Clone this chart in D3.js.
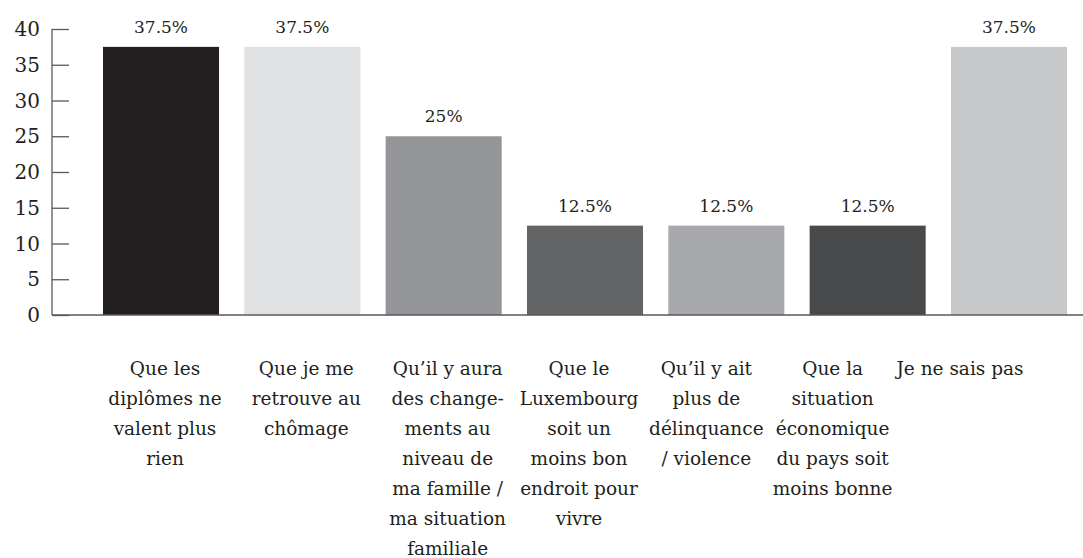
<!DOCTYPE html>
<html>
<head>
<meta charset="utf-8">
<script src="https://cdn.jsdelivr.net/npm/d3@7"></script>
<style>
  body { margin: 0; background: #fff; }
  text { font-family: "DejaVu Serif", serif; fill: #231f20; }
</style>
</head>
<body>
<script>
// chart data
var categories = [
    ["Que les", "diplômes ne", "valent plus", "rien"],
    ["Que je me", "retrouve au", "chômage"],
    ["Qu’il y aura", "des change-", "ments au", "niveau de", "ma famille /", "ma situation", "familiale"],
    ["Que le", "Luxembourg", "soit un", "moins bon", "endroit pour", "vivre"],
    ["Qu’il y ait", "plus de", "délinquance", "/ violence"],
    ["Que la", "situation", "économique", "du pays soit", "moins bonne"],
    ["Je ne sais pas"]
];
var values = [37.5, 37.5, 25, 12.5, 12.5, 12.5, 37.5];
var valueLabels = ["37.5%", "37.5%", "25%", "12.5%", "12.5%", "12.5%", "37.5%"];
var barColors = ["#231f20", "#e0e1e2", "#939598", "#636466", "#a7a9ac", "#48494b", "#c7c8ca"];
var yTicks = [0, 5, 10, 15, 20, 25, 30, 35, 40];

window.onload = drawChart;

function drawChart() {
    var width = 1083,
        height = 558;

    // layout nudges for the category labels (they drift left in the original)
    var labelNudge = [4, 4, 4, -6, -20, -35, -49];

    var svg = d3.select("body")
        .append("svg")
        .attr("width", width)
        .attr("height", height);

    var x = d3.scaleBand()
        .domain(d3.range(values.length))
        .range([103, 1067])
        .paddingInner(0.179)
        .paddingOuter(0);

    var y = d3.scaleLinear()
        .domain([0, 40])
        .range([315, 29]);

    //bars
    svg.selectAll(".bar")
        .data(values)
        .enter()
        .append("rect")
        .attr("class", "bar")
        .attr("x", function (d, i) { return x(i); })
        .attr("y", function (d) { return y(d); })
        .attr("width", x.bandwidth())
        .attr("height", function (d) { return y(0) - y(d); })
        .attr("fill", function (d, i) { return barColors[i]; });

    //y axis
    var yAxis = svg.append("g")
        .attr("class", "y-axis")
        .attr("transform", "translate(52,0)")
        .call(d3.axisRight(y).tickValues(yTicks).tickSize(17).tickFormat(""));

    yAxis.select(".domain").remove();
    yAxis.selectAll("line")
        .attr("stroke", "#58595b")
        .attr("stroke-width", 1.3);

    svg.append("line")
        .attr("x1", 52).attr("x2", 52)
        .attr("y1", y(40)).attr("y2", y(0))
        .attr("stroke", "#58595b")
        .attr("stroke-width", 1.3);

    //baseline
    svg.append("line")
        .attr("x1", 52).attr("x2", width)
        .attr("y1", y(0)).attr("y2", y(0))
        .attr("stroke", "#58595b")
        .attr("stroke-width", 1.3);

    //tick labels
    svg.selectAll(".tick-label")
        .data(yTicks)
        .enter()
        .append("text")
        .attr("class", "tick-label")
        .attr("x", 40)
        .attr("y", function (d) { return y(d) + 7; })
        .attr("text-anchor", "end")
        .style("font-size", "20px")
        .text(function (d) { return d; });

    //value labels
    svg.selectAll(".value-label")
        .data(values)
        .enter()
        .append("text")
        .attr("class", "value-label")
        .attr("x", function (d, i) { return x(i) + x.bandwidth() / 2; })
        .attr("y", function (d) { return y(d) - 14; })
        .attr("text-anchor", "middle")
        .style("font-size", "17px")
        .text(function (d, i) { return valueLabels[i]; });

    //category labels
    var cats = svg.selectAll(".cat-label")
        .data(categories)
        .enter()
        .append("text")
        .attr("class", "cat-label")
        .attr("text-anchor", "middle")
        .style("font-size", "18.5px");

    cats.each(function (lines, i) {
        var cx = x(i) + x.bandwidth() / 2 + labelNudge[i];
        d3.select(this).selectAll("tspan")
            .data(lines)
            .enter()
            .append("tspan")
            .attr("x", cx)
            .attr("y", function (d, j) { return 375 + j * 30; })
            .text(function (d) { return d; });
    });
}
</script>
</body>
</html>
